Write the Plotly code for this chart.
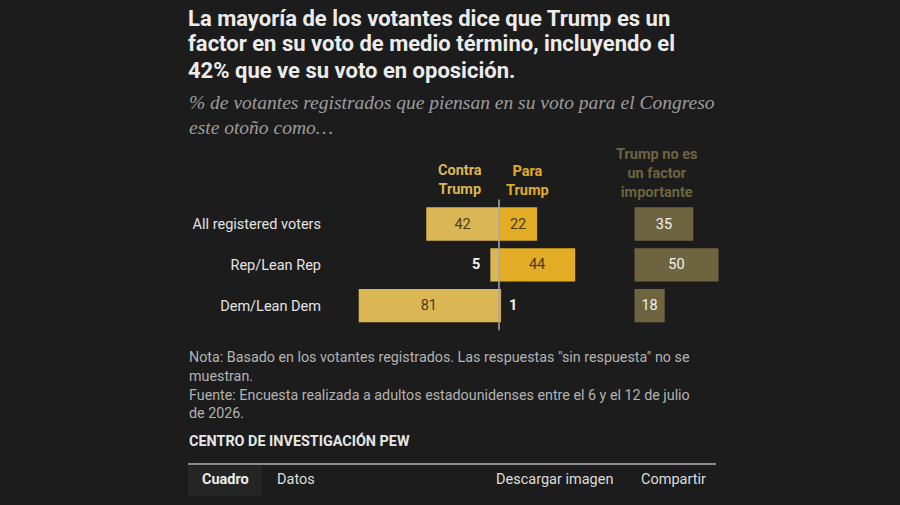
import plotly.graph_objects as go

# ---- data ----
categories = ["All registered voters", "Rep/Lean Rep", "Dem/Lean Dem"]
contra_trump = [42, 5, 81]
para_trump = [22, 44, 1]
no_factor = [35, 50, 18]

title_lines = [
    "La mayoría de los votantes dice que Trump es un",
    "factor en su voto de medio término, incluyendo el",
    "42% que ve su voto en oposición.",
]
subtitle_lines = [
    "% de votantes registrados que piensan en su voto para el Congreso",
    "este otoño como…",
]
note_lines = [
    "Nota: Basado en los votantes registrados. Las respuestas \"sin respuesta\" no se",
    "muestran.",
    "Fuente: Encuesta realizada a adultos estadounidenses entre el 6 y el 12 de julio",
    "de 2026.",
]
source_label = "CENTRO DE INVESTIGACIÓN PEW"
header_contra = "Contra<br>Trump"
header_para = "Para<br>Trump"
header_nofactor = "Trump no es<br>un factor<br>importante"

# ---- styles ----
W, H = 900, 505
BG = "#1c1c1c"
C_CONTRA = "#dbb654"
C_PARA = "#e2ac26"
C_NOF = "#6e6440"
DARK_TXT = "#4a3c14"
SANS = "Roboto, Arial, sans-serif"
SERIF = "Liberation Serif, DejaVu Serif, serif"


def px(x):
    return x / W


def py(y):
    return 1 - y / H


PPU = 1.732          # pixels per percentage point (diverging bars)
PPU2 = 1.68          # pixels per percentage point (third column)
ZERO1 = 499          # pixel of zero line for diverging bars
ZERO2 = 634.5        # pixel of zero for third column
ROW0 = 224           # pixel center of first row
ROWSTEP = 40.85
BARW = 0.815


def inside_text(vals, small=10):
    return [str(v) if v >= small else "" for v in vals]


fig = go.Figure()
fig.add_trace(go.Bar(
    y=categories, x=[-v for v in contra_trump], orientation="h",
    marker=dict(color=C_CONTRA, line=dict(width=0)), width=BARW,
    text=inside_text(contra_trump), textposition="inside", insidetextanchor="middle",
    textfont=dict(family=SANS, size=14.5, color=DARK_TXT), constraintext="none",
    hoverinfo="skip", xaxis="x", yaxis="y",
))
fig.add_trace(go.Bar(
    y=categories, x=para_trump, orientation="h",
    marker=dict(color=C_PARA, line=dict(width=0)), width=BARW,
    text=inside_text(para_trump), textposition="inside", insidetextanchor="middle",
    textfont=dict(family=SANS, size=14.5, color=DARK_TXT), constraintext="none",
    hoverinfo="skip", xaxis="x", yaxis="y",
))
fig.add_trace(go.Bar(
    y=categories, x=no_factor, orientation="h",
    marker=dict(color=C_NOF, line=dict(width=0)), width=BARW,
    text=[str(v) for v in no_factor], textposition="inside", insidetextanchor="middle",
    textfont=dict(family=SANS, size=14.5, color="#f2f2f2"), constraintext="none",
    hoverinfo="skip", xaxis="x2", yaxis="y",
))

for cat, v in zip(categories, contra_trump):
    if v < 10:
        fig.add_annotation(x=-v, y=cat, xref="x", yref="y", text=str(v), showarrow=False,
                           xanchor="right", xshift=-8,
                           font=dict(family=SANS, size=14.5, color="#f2f2f2", weight=700))
for cat, v in zip(categories, para_trump):
    if v < 10:
        fig.add_annotation(x=v, y=cat, xref="x", yref="y", text=str(v), showarrow=False,
                           xanchor="left", xshift=6,
                           font=dict(family=SANS, size=14.5, color="#f2f2f2", weight=700))

fig.add_shape(type="line", xref="x", yref="y", x0=0, x1=0, y0=-0.6, y1=2.6,
              line=dict(color="#a8a8a8", width=1.5), layer="above")

fig.update_layout(
    width=W, height=H, margin=dict(l=0, r=0, t=0, b=0),
    paper_bgcolor=BG, plot_bgcolor=BG, barmode="overlay", showlegend=False,
    xaxis=dict(domain=[0, 1], range=[-ZERO1 / PPU, (W - ZERO1) / PPU], visible=False, fixedrange=True),
    xaxis2=dict(domain=[0, 1], range=[-ZERO2 / PPU2, (W - ZERO2) / PPU2], visible=False,
                overlaying="x", anchor="y", fixedrange=True),
    yaxis=dict(
        domain=[0, 1], type="category", categoryorder="array", categoryarray=categories,
        range=[(H - ROW0) / ROWSTEP, -ROW0 / ROWSTEP],
        anchor="free", position=px(321), showgrid=False, zeroline=False, showline=False,
        ticks="", ticklabelstandoff=0,
        tickfont=dict(family=SANS, size=14.5, color="#e4e4e4"), fixedrange=True,
    ),
)


def ann(text, x, y, size, color, xanchor="left", bold=False, italic=False, family=SANS, yanchor="middle"):
    fig.add_annotation(
        text=text, x=px(x), y=py(y), xref="paper", yref="paper", showarrow=False,
        xanchor=xanchor, yanchor=yanchor, align="center" if xanchor == "center" else "left",
        font=dict(family=family, size=size, color=color, weight=700 if bold else 400,
                  style="italic" if italic else "normal"),
    )


for i, line in enumerate(title_lines):
    ann(line, 186, 18 + 26 * i, 22, "#ececec", bold=True)
for i, line in enumerate(subtitle_lines):
    ann(line, 187, 103 + 24 * i, 19.5, "#9c9c9c", italic=True, family=SERIF)

ann(header_contra, 460, 180, 14.5, C_CONTRA, xanchor="center", bold=True)
ann(header_para, 527, 181, 14.5, C_PARA, xanchor="center", bold=True)
ann(header_nofactor, 656, 173, 14.5, C_NOF, xanchor="center", bold=True)

for i, line in enumerate(note_lines):
    ann(line, 187, 357 + 18.8 * i, 14.3, "#b3b3b3")
ann(source_label, 187, 441, 14.4, "#e6e6e6", bold=True)

fig.add_shape(type="line", xref="paper", yref="paper", x0=px(188), x1=px(716), y0=py(464), y1=py(464),
              line=dict(color="#8c8c8c", width=2))
fig.add_shape(type="rect", xref="paper", yref="paper", x0=px(188), x1=px(262), y0=py(466), y1=py(496),
              fillcolor="#252525", line=dict(width=0), layer="below")
ann("Cuadro", 225, 479, 14.5, "#ececec", xanchor="center", bold=True)
ann("Datos", 275, 479, 14.5, "#dcdcdc")
ann("Descargar imagen", 494, 479, 14.5, "#dcdcdc")
ann("Compartir", 639, 479, 14.5, "#dcdcdc")

fig.write_html("out.html")
